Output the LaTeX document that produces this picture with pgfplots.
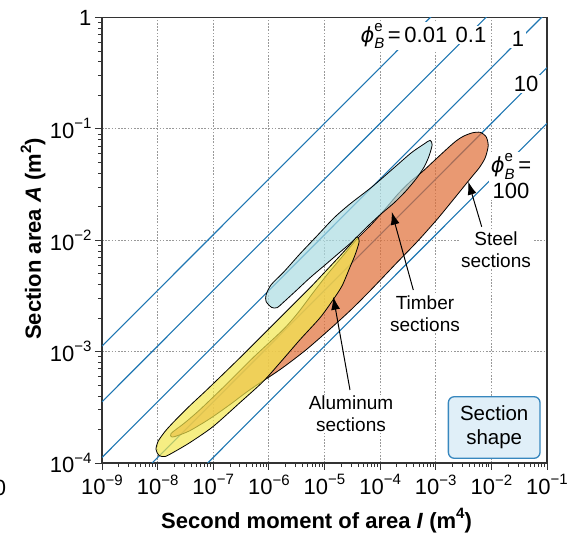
\documentclass[border=0pt]{standalone}
\usepackage{fontspec}
\setmainfont{Liberation Sans}
\newfontfamily\djv{DejaVu Sans}[Scale=0.95]
\usepackage{pgfplots}
\pgfplotsset{compat=1.18}
\usetikzlibrary{arrows.meta}
\definecolor{phiblue}{RGB}{30,118,178}
\definecolor{steel}{RGB}{224,109,54}
\definecolor{timber}{RGB}{171,219,225}
\definecolor{alu}{RGB}{242,231,79}
\definecolor{secblue}{RGB}{55,135,190}
\definecolor{secfill}{RGB}{224,239,248}
\newcommand{\sm}{\fontsize{15}{15}\selectfont}
\newcommand{\tl}[1]{10\raisebox{0.45em}{\sm #1}}
\newcommand{\phiBe}{{\djv\itshape ϕ}\rlap{\raisebox{0.5em}{\sm e}}\raisebox{-0.3em}{\sm\itshape B}}
\begin{document}
\begin{tikzpicture}
\useasboundingbox (-102pt,-75pt) rectangle (466pt,463pt);
\begin{axis}[at={(0pt,0pt)}, anchor=south west, scale only axis,
  width=445pt, height=445.5pt,
  xmin=-9, xmax=-1, ymin=-4, ymax=0,
  xtick={-9,-8,-7,-6,-5,-4,-3,-2,-1},
  xticklabels={\tl{−9},\tl{−8},\tl{−7},\tl{−6},\tl{−5},\tl{−4},\tl{−3},\tl{−2},\tl{−1}},
  ytick={-4,-3,-2,-1,0},
  yticklabels={\tl{−4},\tl{−3},\tl{−2},\tl{−1},1},
  minor xtick={-8.699,-8.523,-8.398,-8.301,-8.222,-8.155,-8.097,-8.046,
    -7.699,-7.523,-7.398,-7.301,-7.222,-7.155,-7.097,-7.046,
    -6.699,-6.523,-6.398,-6.301,-6.222,-6.155,-6.097,-6.046,
    -5.699,-5.523,-5.398,-5.301,-5.222,-5.155,-5.097,-5.046,
    -4.699,-4.523,-4.398,-4.301,-4.222,-4.155,-4.097,-4.046,
    -3.699,-3.523,-3.398,-3.301,-3.222,-3.155,-3.097,-3.046,
    -2.699,-2.523,-2.398,-2.301,-2.222,-2.155,-2.097,-2.046,
    -1.699,-1.523,-1.398,-1.301,-1.222,-1.155,-1.097,-1.046},
  minor ytick={-3.699,-3.523,-3.398,-3.301,-3.222,-3.155,-3.097,-3.046,
    -2.699,-2.523,-2.398,-2.301,-2.222,-2.155,-2.097,-2.046,
    -1.699,-1.523,-1.398,-1.301,-1.222,-1.155,-1.097,-1.046,
    -0.699,-0.523,-0.398,-0.301,-0.222,-0.155,-0.097,-0.046},
  tick pos=left, tick align=outside,
  major tick length=7pt, minor tick length=4pt,
  tick style={black!80, line width=0.8pt},
  axis line style={black!80, line width=1.2pt},
  grid=major,
  major grid style={gray!80, line width=0.8pt, dash pattern=on 1.6pt off 1.6pt},
  ticklabel style={font=\fontsize{22}{24}\selectfont},
  xticklabel style={yshift=-1pt},
]
% shape-factor lines phi = 0.01, 0.1, 1, 10, 100
\addplot[phiblue, line width=1.1pt] coordinates {(-9,-2.9505) (-1,1.0495)};
\addplot[phiblue, line width=1.1pt] coordinates {(-9,-3.4505) (-1,0.5495)};
\addplot[phiblue, line width=1.1pt] coordinates {(-9,-3.9505) (-1,0.0495)};
\addplot[phiblue, line width=1.1pt] coordinates {(-9,-4.4505) (-1,-0.4505)};
\addplot[phiblue, line width=1.1pt] coordinates {(-9,-4.9505) (-1,-0.9505)};
% steel sections
\addplot[draw=black, line width=0.8pt, fill=steel, fill opacity=0.7, smooth cycle, tension=0.45] coordinates {
(-2.507,-1.067) (-2.345,-1.036) (-2.201,-1.031) (-2.093,-1.072) (-2.057,-1.152) (-2.111,-1.260)
(-2.219,-1.350) (-2.351,-1.430) (-2.687,-1.637) (-2.982,-1.816) (-3.334,-2.013) (-3.700,-2.202)
(-4.162,-2.444) (-4.539,-2.632) (-4.935,-2.812) (-5.349,-2.991) (-5.798,-3.161) (-6.338,-3.341)
(-6.698,-3.475) (-7.057,-3.601) (-7.417,-3.709) (-7.633,-3.753) (-7.741,-3.767) (-7.759,-3.735)
(-7.507,-3.637) (-7.237,-3.520) (-6.788,-3.305) (-6.284,-3.054) (-5.744,-2.803) (-5.475,-2.650)
(-5.205,-2.471) (-4.953,-2.309) (-4.683,-2.148) (-4.413,-1.987) (-4.144,-1.852) (-3.892,-1.709)
(-3.676,-1.583) (-3.460,-1.475) (-3.244,-1.386) (-3.011,-1.278) (-2.777,-1.170) (-2.633,-1.108)};
% timber sections
\addplot[draw=black, line width=0.8pt, fill=timber, fill opacity=0.7, smooth cycle, tension=0.45] coordinates {
(-3.101,-1.103) (-3.065,-1.143) (-3.119,-1.242) (-3.208,-1.341) (-3.352,-1.448) (-3.550,-1.565)
(-3.748,-1.664) (-4.000,-1.771) (-4.252,-1.888) (-4.503,-2.013) (-4.755,-2.121) (-5.007,-2.229)
(-5.259,-2.336) (-5.511,-2.453) (-5.727,-2.552) (-5.852,-2.605) (-5.950,-2.603) (-6.050,-2.550)
(-6.050,-2.490) (-5.960,-2.400) (-5.727,-2.282) (-5.439,-2.121) (-5.133,-1.960) (-4.827,-1.798)
(-4.539,-1.673) (-4.144,-1.520) (-3.740,-1.345) (-3.440,-1.215) (-3.208,-1.135)};
% aluminum sections
\addplot[draw=black, line width=0.8pt, fill=alu, fill opacity=0.7, smooth cycle, tension=0.45] coordinates {
(-4.413,-1.969) (-4.377,-2.013) (-4.449,-2.130) (-4.539,-2.238) (-4.683,-2.408) (-4.845,-2.534)
(-5.079,-2.695) (-5.439,-2.892) (-5.798,-3.099) (-6.104,-3.269) (-6.518,-3.457) (-7.004,-3.673)
(-7.417,-3.816) (-7.723,-3.906) (-7.867,-3.942) (-7.975,-3.933) (-8.029,-3.879) (-7.993,-3.807)
(-7.867,-3.717) (-7.705,-3.628) (-7.417,-3.484) (-7.111,-3.341) (-6.518,-3.054) (-5.924,-2.758)
(-5.565,-2.578) (-5.259,-2.426) (-4.989,-2.283) (-4.719,-2.139) (-4.539,-2.040)};
\end{axis}
% line labels
\begin{scope}[every node/.style={fill=white, inner sep=1.5pt, font=\fontsize{22}{24}\selectfont}]
\node[anchor=east] at (347pt,427pt) {\phiBe\,=\,0.01};
\node at (369pt,428pt) {0.1};
\node at (416pt,424pt) {1};
\node at (424pt,379pt) {10};
\node[align=center, font=\fontsize{22}{26}\selectfont] at (409pt,287pt) {\phiBe\,=\\100};
\end{scope}
% annotations
\begin{scope}[every node/.style={fill=white, inner sep=1pt, align=center, font=\fontsize{19}{22}\selectfont}]
\node at (394pt,213pt) {Steel\\sections};
\node at (323pt,149pt) {Timber\\sections};
\node at (249pt,49pt) {Aluminum\\sections};
\end{scope}
\draw[line width=1pt, -{Latex[length=13pt,width=9pt]}] (379.7pt,236.3pt) -- (366.3pt,281.3pt);
\draw[line width=1pt, -{Latex[length=13pt,width=9pt]}] (311.3pt,173pt) -- (289.7pt,251.3pt);
\draw[line width=1pt, -{Latex[length=13pt,width=9pt]}] (248pt,73pt) -- (231.3pt,166.3pt);
\node[draw=secblue, fill=secfill, rounded corners=6pt, line width=1.3pt,
  minimum width=91.7pt, minimum height=61.6pt, align=center,
  font=\fontsize{20.5}{24}\selectfont] at (392.2pt,35.5pt) {Section\\shape};
% axis titles
\node[rotate=90, font=\bfseries\fontsize{22}{24}\selectfont] at (-69pt,224pt)
  {Section area \textit{A} (m\raisebox{0.45em}{\sm 2})};
\node[font=\bfseries\fontsize{22}{24}\selectfont] at (214.5pt,-58pt)
  {Second moment of area \textit{I} (m\raisebox{0.45em}{\sm 4})};
\node[font=\fontsize{22}{24}\selectfont] at (-102pt,-25pt) {0};
\end{tikzpicture}
\end{document}
